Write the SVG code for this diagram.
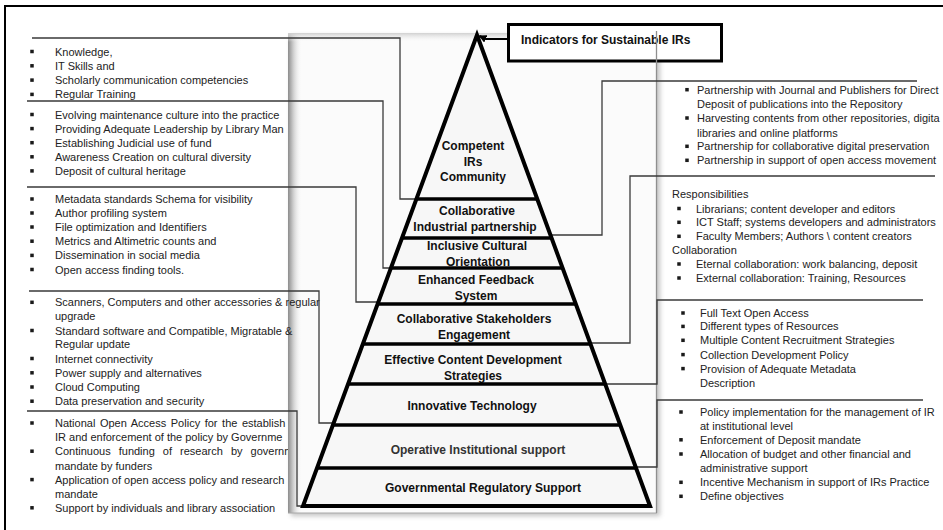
<svg xmlns="http://www.w3.org/2000/svg" xmlns:xlink="http://www.w3.org/1999/xlink" width="943" height="530" viewBox="0 0 943 530">
<style>
  .t{font-family:"Liberation Sans",Arial,sans-serif;font-size:11px;fill:#222}
  .lbl{font-family:"Liberation Sans",Arial,sans-serif;font-size:12px;font-weight:bold;fill:#111;text-anchor:middle}
  .title{font-family:"Liberation Sans",Arial,sans-serif;font-size:12px;font-weight:bold;fill:#111}
  .conn{fill:none;stroke:#3a3a3a;stroke-width:1.3}
  .band{stroke:#000;stroke-width:3.5;fill:none}
  .bul{fill:#1a1a1a}
</style>
<defs>
  <rect id="bul" class="bul" x="-0.25" y="-0.25" width="3.5" height="3.5"/>
  <linearGradient id="bevelL" x1="0" y1="0" x2="1" y2="0">
    <stop offset="0" stop-color="#8c8c8c"/>
    <stop offset="0.35" stop-color="#c9c9c9"/>
    <stop offset="1" stop-color="#fbfbfb" stop-opacity="0"/>
  </linearGradient>
  <linearGradient id="bevelT" x1="0" y1="0" x2="0" y2="1">
    <stop offset="0" stop-color="#d0d0d0"/>
    <stop offset="1" stop-color="#fbfbfb" stop-opacity="0"/>
  </linearGradient>
  <filter id="soft" x="-5%" y="-5%" width="110%" height="110%">
    <feGaussianBlur stdDeviation="2.5"/>
  </filter>
  <marker id="tip" viewBox="0 0 8 8" refX="7" refY="4" markerWidth="8" markerHeight="8" orient="auto" markerUnits="userSpaceOnUse">
    <path d="M0,0 L8,4 L0,8 Z" fill="#000"/>
  </marker>
</defs>

<!-- page background and outer frame -->
<rect width="943" height="530" fill="#fff"/>
<path d="M5,530 V6 H943" fill="none" stroke="#000" stroke-width="2"/>

<!-- left lists (the ones tucked under the backdrop panel) -->
<g id="list-competence">
  <use href="#bul" x="30.5" y="50"/><text class="t" x="55" y="55.5">Knowledge,</text>
  <use href="#bul" x="30.5" y="64.3"/><text class="t" x="55" y="69.8">IT Skills and</text>
  <use href="#bul" x="30.5" y="78.6"/><text class="t" x="55" y="84.1">Scholarly communication competencies</text>
  <use href="#bul" x="30.5" y="92.9"/><text class="t" x="55" y="98.4">Regular Training</text>
</g>
<g id="list-culture">
  <use href="#bul" x="30.5" y="113"/><text class="t" x="55" y="118.5">Evolving maintenance culture into the practice</text>
  <use href="#bul" x="30.5" y="127.1"/><text class="t" x="55" y="132.6">Providing Adequate Leadership by Library Man</text>
  <use href="#bul" x="30.5" y="141.2"/><text class="t" x="55" y="146.7">Establishing Judicial use of fund</text>
  <use href="#bul" x="30.5" y="155.3"/><text class="t" x="55" y="160.8">Awareness Creation on cultural diversity</text>
  <use href="#bul" x="30.5" y="169.4"/><text class="t" x="55" y="174.9">Deposit of cultural heritage</text>
</g>
<g id="list-feedback">
  <use href="#bul" x="30.5" y="197.5"/><text class="t" x="55" y="203">Metadata standards Schema for visibility</text>
  <use href="#bul" x="30.5" y="211.5"/><text class="t" x="55" y="217">Author profiling system</text>
  <use href="#bul" x="30.5" y="225.5"/><text class="t" x="55" y="231">File optimization and Identifiers</text>
  <use href="#bul" x="30.5" y="239.7"/><text class="t" x="55" y="245.2">Metrics and Altimetric counts and</text>
  <use href="#bul" x="30.5" y="253.9"/><text class="t" x="55" y="259.4">Dissemination in social media</text>
  <use href="#bul" x="30.5" y="268"/><text class="t" x="55" y="273.5">Open access finding tools.</text>
</g>
<g id="list-government">
  <use href="#bul" x="30.5" y="421.5"/><text class="t" x="55" y="427" word-spacing="1.5">National Open Access Policy for the establish</text>
  <text class="t" x="55" y="441.2">IR and enforcement of the policy by Governme</text>
  <use href="#bul" x="30.5" y="449.7"/><text class="t" x="55" y="455.2" word-spacing="5">Continuous funding of research by governm</text>
  <text class="t" x="55" y="469.5">mandate by funders</text>
  <use href="#bul" x="30.5" y="478.1"/><text class="t" x="55" y="483.6">Application of open access policy and research</text>
  <text class="t" x="55" y="497.8">mandate</text>
  <use href="#bul" x="30.5" y="506.3"/><text class="t" x="55" y="511.8">Support by individuals and library association</text>
</g>

<!-- right lists -->
<g id="list-partnership">
  <use href="#bul" x="685.5" y="88.2"/><text class="t" x="697" y="93.7">Partnership with Journal and Publishers for Direct</text>
  <text class="t" x="697" y="107.8">Deposit of publications into the Repository</text>
  <use href="#bul" x="685.5" y="116.5"/><text class="t" x="697" y="122">Harvesting contents from other repositories, digita</text>
  <text class="t" x="697" y="136.5">libraries and online platforms</text>
  <use href="#bul" x="685.5" y="144.8"/><text class="t" x="697" y="150.3">Partnership for collaborative digital preservation</text>
  <use href="#bul" x="685.5" y="158.8"/><text class="t" x="697" y="164.3">Partnership in support of open access movement</text>
</g>
<g id="list-stakeholders">
  <text class="t" x="672" y="198">Responsibilities</text>
  <use href="#bul" x="677.5" y="207"/><text class="t" x="696" y="212.5">Librarians; content developer and editors</text>
  <use href="#bul" x="677.5" y="220.8"/><text class="t" x="696" y="226.3">ICT Staff; systems developers and administrators</text>
  <use href="#bul" x="677.5" y="234.8"/><text class="t" x="696" y="240.3">Faculty Members; Authors \ content creators</text>
  <text class="t" x="672" y="253.8">Collaboration</text>
  <use href="#bul" x="677.5" y="262.5"/><text class="t" x="696" y="268">Eternal collaboration: work balancing, deposit</text>
  <use href="#bul" x="677.5" y="276.5"/><text class="t" x="696" y="282">External collaboration: Training, Resources</text>
</g>
<g id="list-content">
  <use href="#bul" x="681.5" y="311.5"/><text class="t" x="700" y="317">Full Text Open Access</text>
  <use href="#bul" x="681.5" y="324.9"/><text class="t" x="700" y="330.4">Different types of Resources</text>
  <use href="#bul" x="681.5" y="338.8"/><text class="t" x="700" y="344.3">Multiple Content Recruitment Strategies</text>
  <use href="#bul" x="681.5" y="353.1"/><text class="t" x="700" y="358.6">Collection Development Policy</text>
  <use href="#bul" x="681.5" y="367.1"/><text class="t" x="700" y="372.6">Provision of Adequate Metadata</text>
  <text class="t" x="700" y="387">Description</text>
</g>
<g id="list-institution">
  <use href="#bul" x="679.5" y="410.5"/><text class="t" x="700" y="416">Policy implementation for the management of IR</text>
  <text class="t" x="700" y="430.3">at institutional level</text>
  <use href="#bul" x="679.5" y="438.3"/><text class="t" x="700" y="443.8">Enforcement of Deposit mandate</text>
  <use href="#bul" x="679.5" y="452.5"/><text class="t" x="700" y="458">Allocation of budget and other financial and</text>
  <text class="t" x="700" y="472">administrative support</text>
  <use href="#bul" x="679.5" y="480.8"/><text class="t" x="700" y="486.3">Incentive Mechanism in support of IRs Practice</text>
  <use href="#bul" x="679.5" y="494.8"/><text class="t" x="700" y="500.3">Define objectives</text>
</g>

<!-- bevelled backdrop panel behind the pyramid -->
<g id="panel">
  <rect x="291" y="36" width="369" height="480" fill="#7a7a7a" opacity="0.45" filter="url(#soft)"/>
  <rect x="288" y="33" width="369" height="480" fill="#fbfbfb"/>
  <rect x="288" y="33" width="14" height="480" fill="url(#bevelL)"/>
  <rect x="288" y="33" width="369" height="9" fill="url(#bevelT)"/>
  <line x1="288" y1="513" x2="657" y2="513" stroke="#a8a8a8" stroke-width="1"/>
</g>

<!-- technology list sits in front of the panel -->
<g id="list-technology">
  <use href="#bul" x="30.5" y="300.8"/><text class="t" x="55" y="306.3">Scanners, Computers and other accessories &amp; regular</text>
  <text class="t" x="55" y="320.3">upgrade</text>
  <use href="#bul" x="30.5" y="329"/><text class="t" x="55" y="334.5">Standard software and Compatible, Migratable &amp;</text>
  <text class="t" x="55" y="348">Regular update</text>
  <use href="#bul" x="30.5" y="357"/><text class="t" x="55" y="362.5">Internet connectivity</text>
  <use href="#bul" x="30.5" y="371.3"/><text class="t" x="55" y="376.8">Power supply and alternatives</text>
  <use href="#bul" x="30.5" y="385.5"/><text class="t" x="55" y="391">Cloud Computing</text>
  <use href="#bul" x="30.5" y="399.7"/><text class="t" x="55" y="405.2">Data preservation and security</text>
</g>

<!-- heading box -->
<g id="title">
  <rect x="508.5" y="24.5" width="213" height="36.5" fill="#fff" stroke="#000" stroke-width="3"/>
  <text class="title" x="521" y="43.5">Indicators for Sustainable IRs</text>
</g>

<!-- right edge of the panel runs over the heading box -->
<line x1="656.5" y1="31" x2="656.5" y2="513" stroke="#8f8f8f" stroke-width="1.3"/>

<!-- elbow connectors from each list to its pyramid level -->
<g id="connectors">
  <path class="conn" d="M32,38 H400 V199 H417"/>
  <path class="conn" d="M27,101 H383 V268 H391"/>
  <path class="conn" d="M27,187 H356 V302 H379"/>
  <path class="conn" d="M29,291 H319 V423 H334"/>
  <path class="conn" d="M27,411 H297 V506 H304"/>
  <path class="conn" d="M917,81 H602 V235 H550"/>
  <path class="conn" d="M935,176 H630 V343 H590"/>
  <path class="conn" d="M923,300 H657 V384 H605"/>
  <path class="conn" d="M923,400 H657 V467 H636"/>
  <path d="M508,39 H486 L479.5,36" fill="none" stroke="#000" stroke-width="2.2" marker-end="url(#tip)"/>
</g>

<!-- pyramid of indicator levels, apex to base -->
<g id="pyramid">
  <polygon points="477,35 303,506 650,506" fill="#f7f7f7" stroke="#000" stroke-width="4" stroke-linejoin="miter"/>
  <g id="level-community">
    <text class="lbl" x="473" y="150.3">Competent</text>
    <text class="lbl" x="473" y="166">IRs</text>
    <text class="lbl" x="473" y="181.3">Community</text>
  </g>
  <g id="level-industrial">
    <line class="band" x1="416.4" y1="199" x2="537.2" y2="199"/>
    <text class="lbl" x="477" y="215">Collaborative</text>
    <text class="lbl" x="475" y="231">Industrial partnership</text>
  </g>
  <g id="level-cultural">
    <line class="band" x1="402" y1="238" x2="551.6" y2="238"/>
    <text class="lbl" x="477" y="250.3">Inclusive Cultural</text>
    <text class="lbl" x="478" y="266">Orientation</text>
  </g>
  <g id="level-feedback">
    <line class="band" x1="390.9" y1="268" x2="562.6" y2="268"/>
    <text class="lbl" x="476" y="283.6">Enhanced Feedback</text>
    <text class="lbl" x="476" y="300.3">System</text>
  </g>
  <g id="level-stakeholders">
    <line class="band" x1="377.6" y1="304" x2="575.8" y2="304"/>
    <text class="lbl" x="474" y="322.6">Collaborative Stakeholders</text>
    <text class="lbl" x="474" y="339.3">Engagement</text>
  </g>
  <g id="level-content">
    <line class="band" x1="362.8" y1="344" x2="590.5" y2="344"/>
    <text class="lbl" x="473" y="363.6">Effective Content Development</text>
    <text class="lbl" x="473" y="380">Strategies</text>
  </g>
  <g id="level-technology">
    <line class="band" x1="348.1" y1="384" x2="605.2" y2="384"/>
    <text class="lbl" x="472" y="410.3">Innovative Technology</text>
  </g>
  <g id="level-institutional">
    <line class="band" x1="332.9" y1="425" x2="620.3" y2="425"/>
    <text class="lbl" x="478" y="453.6" style="fill:#333">Operative Institutional support</text>
  </g>
  <g id="level-regulatory">
    <line class="band" x1="317" y1="468" x2="636" y2="468"/>
    <text class="lbl" x="483" y="491.6">Governmental Regulatory Support</text>
  </g>
</g>
</svg>
